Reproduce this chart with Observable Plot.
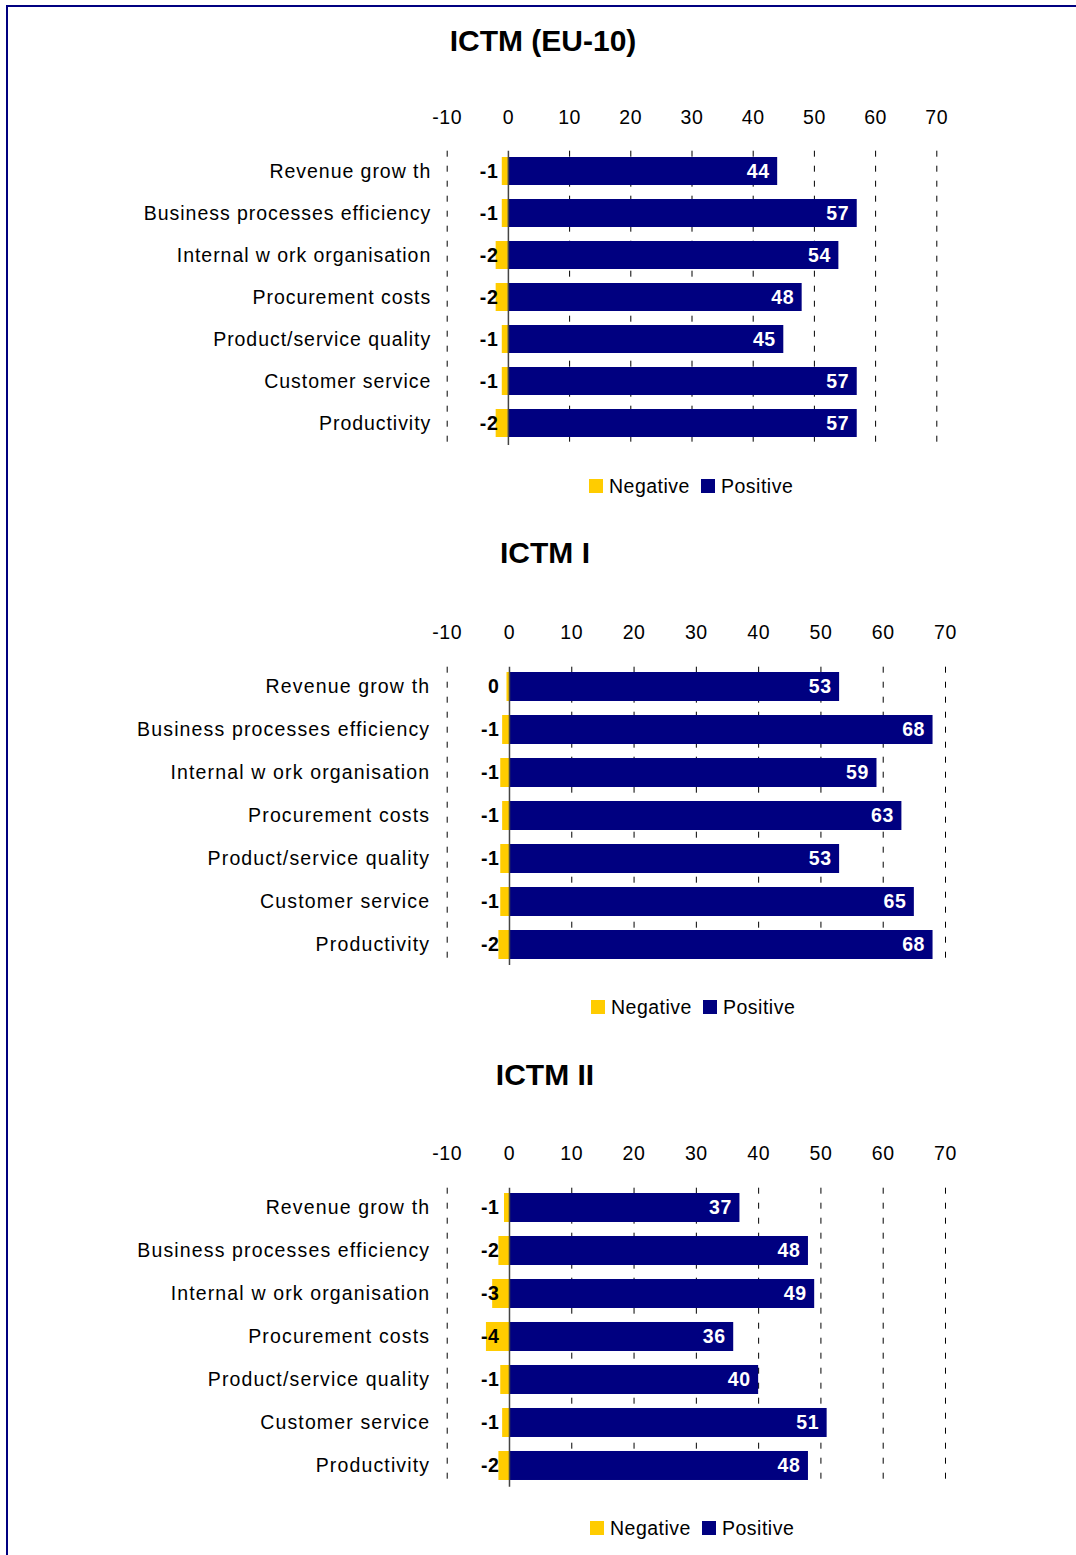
<!DOCTYPE html>
<html><head><meta charset="utf-8">
<script src="https://cdn.jsdelivr.net/npm/d3@7"></script>
<script src="https://cdn.jsdelivr.net/npm/@observablehq/plot@0.6"></script>
<style>
html,body{margin:0;padding:0;background:#fff;}
body{width:1076px;height:1555px;position:relative;overflow:hidden;font-family:"Liberation Sans",Arial,sans-serif;}
#border{position:absolute;left:6px;top:5px;right:0;bottom:0;border-top:2px solid #000080;border-left:2px solid #000080;}
.title{position:absolute;left:0;text-align:center;font-weight:bold;font-size:30px;line-height:36px;color:#000;white-space:nowrap;}
.panel{position:absolute;left:0;}
.p1 g[aria-label^="y-axis"] text{letter-spacing:0.95px;}
.p2 g[aria-label^="y-axis"] text,.p3 g[aria-label^="y-axis"] text{letter-spacing:1.15px;}
.leg{position:absolute;}
.leg > div{font-family:"Liberation Sans",Arial,sans-serif !important;font-size:19.5px !important;margin:0 !important;min-height:0 !important;letter-spacing:0.5px;color:#000;line-height:22px;}
.leg span{margin-right:11px !important;}
.leg svg{margin-right:6px !important;}
</style></head><body>
<div id="border"></div>
<div id="root"></div>
<script>
const categories = ["Revenue grow th","Business processes efficiency","Internal w ork organisation","Procurement costs","Product/service quality","Customer service","Productivity"];
const panelTitles = ["ICTM (EU-10)","ICTM I","ICTM II"];
const seriesNames = ["Negative","Positive"];
const seriesColors = ["#FFCC00","#000080"];
const xTicks = [-10,0,10,20,30,40,50,60,70];
// Panel ICTM (EU-10)
const negEU10 = [-1,-1,-2,-2,-1,-1,-2];
const posEU10 = [44,57,54,48,45,57,57];
// Panel ICTM I
const negI = [-0.4,-1.1,-1.4,-1.1,-1.4,-1.4,-1.7];
const posI = [53,68,59,63,53,65,68];
// Panel ICTM II
const negII = [-0.8,-1.7,-2.7,-3.7,-1.4,-1.1,-1.7];
const posII = [37,48,49,36,40,51,48];

const FONT = '"Liberation Sans", Arial, sans-serif';

function panel(neg, pos, cfg) {
  const negData = categories.map((c,i)=>({cat:c, value:neg[i], series:seriesNames[0]}));
  const posData = categories.map((c,i)=>({cat:c, value:pos[i], series:seriesNames[1]}));
  const fmt = d => String(Math.round(d.value));
  return Plot.plot({
    width: 1076, height: cfg.height,
    marginLeft: cfg.ml, marginRight: cfg.mr, marginTop: cfg.mt, marginBottom: cfg.mb,
    style: {fontFamily: FONT, fontSize: "19.5px", color: "#000", background: "transparent", overflow: "visible", letterSpacing: "0.6px"},
    x: {domain: [-10,70], ticks: xTicks, axis: "top", tickSize: 0, tickPadding: cfg.tp, tickFormat: d => String(d), label: null},
    y: {domain: categories, range: cfg.yr, paddingInner: cfg.pad, paddingOuter: cfg.pad / 2, tickSize: 0, tickPadding: cfg.yp, label: null},
    color: {domain: seriesNames, range: seriesColors},
    marks: [
      Plot.ruleX(xTicks.filter(t => t !== 0), {stroke: "#000", strokeWidth: 1, strokeDasharray: "6,9"}),
      Plot.barX(negData, {x: "value", y: "cat", fill: "series"}),
      Plot.barX(posData, {x: "value", y: "cat", fill: "series"}),
      Plot.ruleX([0], {stroke: "#444", strokeWidth: 1.5}),
      Plot.text(posData, {x: "value", y: "cat", text: fmt, textAnchor: "end", dx: -8, fill: "white", fontWeight: "bold", fontSize: 19.5}),
      Plot.text(negData, {x: () => 0, y: "cat", text: fmt, textAnchor: "end", dx: -10, fill: "black", fontWeight: "bold", fontSize: 19.5})
    ]
  });
}

const root = document.getElementById("root");
const configs = [
  {neg: negEU10, pos: posEU10, top: 90, height: 365, mt: 60.7, mb: 10, ml: 446.7, mr: 139.7, tp: 27.7, yp: 16, yr: [59.7, 354.9], pad: 0.325, titleTop: 23, titleW: 1086, legLeft: 589, legTop: 475},
  {neg: negI, pos: posI, top: 610, height: 365, mt: 56.7, mb: 10, ml: 446.7, mr: 131, tp: 28, yp: 17, yr: [54.5, 356], pad: 0.327, titleTop: 535, titleW: 1090, legLeft: 591, legTop: 996},
  {neg: negII, pos: posII, top: 1130, height: 366.7, mt: 57.7, mb: 10, ml: 446.7, mr: 131, tp: 28, yp: 17, yr: [56, 357], pad: 0.33, titleTop: 1057, titleW: 1090, legLeft: 590, legTop: 1517}
];
configs.forEach((cfg, i) => {
  const t = document.createElement("div");
  t.className = "title";
  t.style.top = cfg.titleTop + "px";
  t.style.width = cfg.titleW + "px";
  t.textContent = panelTitles[i];
  root.appendChild(t);

  const p = document.createElement("div");
  p.className = "panel p" + (i + 1);
  p.style.top = cfg.top + "px";
  p.appendChild(panel(cfg.neg, cfg.pos, cfg));
  root.appendChild(p);

  const l = document.createElement("div");
  l.className = "leg";
  l.style.left = cfg.legLeft + "px";
  l.style.top = cfg.legTop + "px";
  l.appendChild(Plot.legend({color: {domain: seriesNames, range: seriesColors}, legend: "swatches", swatchSize: 14}));
  root.appendChild(l);
});
</script>
</body></html>
